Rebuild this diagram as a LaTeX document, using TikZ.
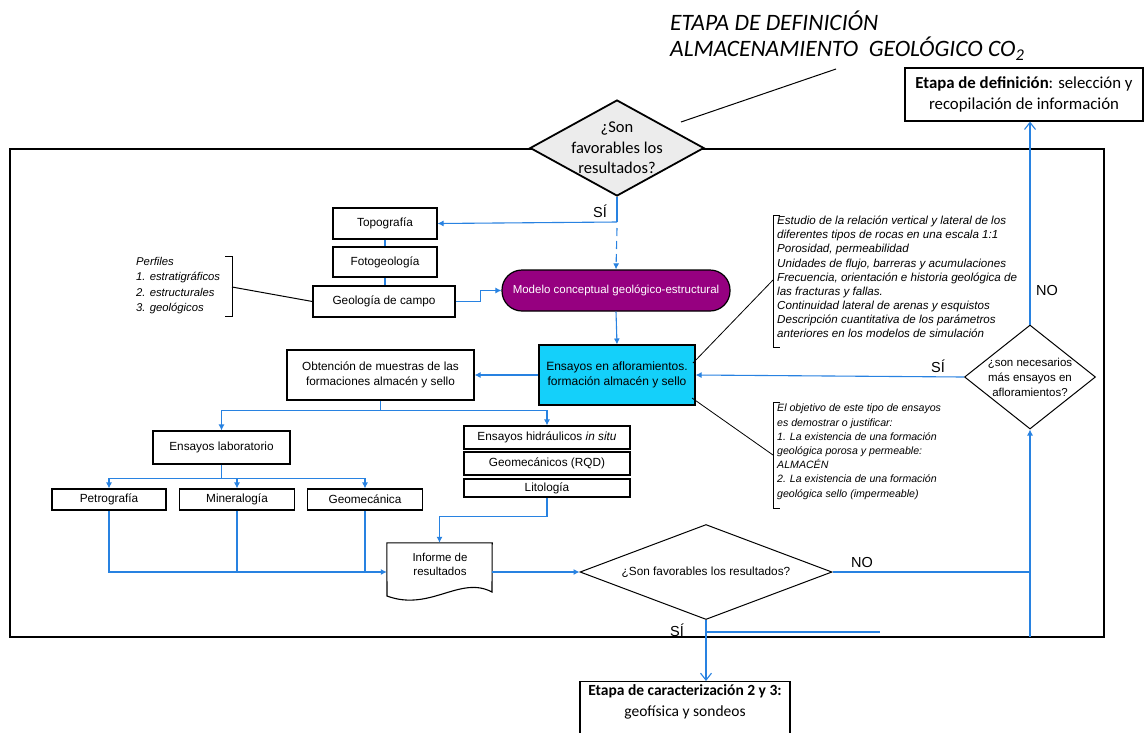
\documentclass[tikz,border=0pt]{standalone}
\usepackage{fontspec}
\setmainfont{Liberation Sans}
\newfontfamily\calfont{Carlito}
\usetikzlibrary{shapes.geometric,arrows.meta,calc}
\definecolor{flowblue}{RGB}{40,130,225}
\definecolor{modpurple}{RGB}{150,0,128}
\definecolor{enscyan}{RGB}{20,208,250}
\definecolor{diagray}{RGB}{236,236,236}
\tikzset{
  flow/.style={draw=flowblue, line width=1.1pt},
  arr/.style={-{Latex[length=6pt,width=6pt]}},
  openarr/.style={-{Straight Barb[length=7pt,width=11pt]}},
  box/.style={draw, line width=1.1pt, align=center, inner sep=1pt, font=\fontsize{11.8}{14.5}\selectfont},
  dia/.style={draw, diamond, inner sep=0pt, line width=1pt},
  txt/.style={align=center, inner sep=0pt},
  lbl/.style={inner sep=0pt, font=\fontsize{14.5}{16}\selectfont},
  note/.style={align=left, inner sep=0pt, anchor=north west, font=\fontsize{10.6}{14.2}\selectfont\itshape},
  pointer/.style={draw, line width=1pt},
}
\begin{document}
\begin{tikzpicture}[x=1pt,y=-1pt]
\useasboundingbox (0,0) rectangle (1148,732);
\clip (0,0) rectangle (1148,732);
\fill[white] (0,0) rectangle (1148,732);

% outer frame
\draw[line width=1.5pt] (10,149) rectangle (1104,637);

% title
\node[anchor=west, inner sep=0pt, font=\calfont\fontsize{23.5}{27}\selectfont\itshape] (t1) at (670,21) {ETAPA DE DEFINICI\'ON};
\node[anchor=west, inner sep=0pt, font=\calfont\fontsize{23.5}{27}\selectfont\itshape] (t2) at (670,49) {ALMACENAMIENTO\ \ GEOL\'OGICO CO\textsubscript{2}};
\coordinate (tp) at (836,69);

% top diamond
\node[dia, fill=diagray, line width=1.8pt, minimum width=174pt, minimum height=96pt,
  label={[txt, font=\calfont\fontsize{16.5}{20.5}\selectfont]center:{¿Son\\favorables los\\resultados?}}] (d1) at (617,148) {};
\draw[pointer] (tp) -- (681,122);

% definition box
\node[draw, line width=1.2pt, minimum width=238pt, minimum height=53pt, align=center, inner sep=0pt,
  font=\calfont\fontsize{16.8}{21.5}\selectfont] (def) at (1024,94.5)
  {\textbf{Etapa de definici\'on}: selecci\'on y\\recopilaci\'on de informaci\'on};

% left column
\node[box, minimum width=104pt, minimum height=31pt] (topo) at (385,223.5) {Topograf\'ia};
\node[box, minimum width=104pt, minimum height=30pt] (foto) at (385,262) {Fotogeolog\'ia};
\node[box, minimum width=142pt, minimum height=31pt] (geo) at (384,301.5) {Geolog\'ia de campo};

% Perfiles
\node[note, font=\fontsize{11.3}{15.5}\selectfont\itshape] (perf) at (136,257)
  {Perfiles\\1. estratigr\'aficos\\2. estructurales\\3. geol\'ogicos};
\draw[line width=1pt] (225,256) -- (232,256) -- (232,316) -- (225,316);
\coordinate (perfb) at (232,287);
\draw[pointer] (perfb) -- (geo.west);

% Modelo
\node[draw, line width=1.2pt, fill=modpurple, text=white, rounded corners=20pt,
  minimum width=228pt, minimum height=41pt, font=\fontsize{11.5}{14}\selectfont] (modelo) at (616,290.5)
  {Modelo conceptual geol\'ogico-estructural};

% Ensayos afloramientos
\node[box, fill=enscyan, minimum width=156pt, minimum height=60pt, font=\fontsize{12}{15}\selectfont] (ens) at (617,375)
  {Ensayos en afloramientos.\\formaci\'on almac\'en y sello};

% Obtencion
\node[box, minimum width=187pt, minimum height=50pt] (obt) at (380.5,375)
  {Obtenci\'on de muestras de las\\formaciones almac\'en y sello};

% laboratorio
\node[box, minimum width=137pt, minimum height=33pt] (lab) at (221.5,447.5) {Ensayos laboratorio};
\node[box, minimum width=114pt, minimum height=21pt] (petro) at (109,499.5) {Petrograf\'ia};
\node[box, minimum width=115pt, minimum height=21pt] (mine) at (237,499.5) {Mineralog\'ia};
\node[box, minimum width=115pt, minimum height=21pt] (geomec) at (365,499.5) {Geomec\'anica};

% in situ
\node[box, minimum width=166pt, minimum height=23pt] (hidr) at (547,437.5) {Ensayos hidr\'aulicos \textit{in situ}};
\node[box, minimum width=166pt, minimum height=23pt] (rqd) at (547,463.5) {Geomec\'anicos (RQD)};
\node[box, minimum width=166pt, minimum height=18pt] (lito) at (547,488) {Litolog\'ia};

% Informe (document shape)
\node[minimum width=105pt, minimum height=58pt, inner sep=0pt] (inf) at (439.5,572) {};
\draw[line width=1.1pt] (inf.north west) -- (inf.north east) -- (492,592)
  .. controls (460,575) and (430,612) .. (387,596) -- cycle;
\node[txt, font=\fontsize{11.5}{14}\selectfont] (inftxt) at (440,564) {Informe de\\resultados};

% diamonds
\node[dia, minimum width=252pt, minimum height=95pt,
  label={[txt, font=\fontsize{11.8}{14}\selectfont]center:{¿Son favorables los resultados?}}] (d3) at (706,572) {};
\node[dia, minimum width=131pt, minimum height=104pt,
  label={[txt, font=\fontsize{11.5}{15}\selectfont]center:{¿son necesarios\\m\'as ensayos en\\afloramientos?}}] (d2) at (1030,377) {};

% caracterizacion
\node[draw, line width=1.2pt, minimum width=210pt, minimum height=62pt, anchor=north, align=center, inner sep=0pt,
  font=\calfont\fontsize{15.5}{21}\selectfont, text depth=0pt] (car) at (685,681)
  {\textbf{Etapa de caracterizaci\'on 2 y 3:}\\geof\'isica y sondeos\\[4pt]\mbox{}};

% notes
\node[note, font=\fontsize{11.6}{14.1}\selectfont\itshape] (study) at (777,216)
  {Estudio de la relaci\'on vertical y lateral de los\\diferentes tipos de rocas en una escala 1:1\\Porosidad, permeabilidad\\Unidades de flujo, barreras y acumulaciones\\Frecuencia, orientaci\'on e historia geol\'ogica de\\las fracturas y fallas.\\Continuidad lateral de arenas y esquistos\\Descripci\'on cuantitativa de los par\'ametros\\anteriores en los modelos de simulaci\'on};
\draw[line width=1pt] (780,215) -- (773,215) -- (773,347) -- (780,347);
\coordinate (studyb) at (773,280);
\draw[pointer, line width=0.8pt] (studyb) -- (693,363);

\node[note] (obj) at (777,404)
  {El objetivo de este tipo de ensayos\\es demostrar o justificar:\\1. La existencia de una formaci\'on\\geol\'ogica porosa y permeable:\\ALMAC\'EN\\2. La existencia de una formaci\'on\\geol\'ogica sello (impermeable)};
\draw[line width=1pt] (780,402) -- (773,402) -- (773,508) -- (780,508);
\coordinate (objb) at (773,455);
\draw[pointer, line width=0.8pt] (objb) -- (692,398);

% connectors
\coordinate (sj) at (617,222);
\draw[flow] (d1.south) -- (sj);
\draw[flow, arr] (sj) -- (topo.east);
\draw[flow, dashed, dash pattern=on 8pt off 5pt, arr] ($(sj)+(0,6)$) -- (modelo.north);
\node[lbl] (si1) at (600,211) {S\'I};
\draw[flow] (topo.south) -- (foto.north);
\draw[flow] (foto.south) -- (foto.south|-geo.north);
\draw[flow, arr] (geo.east) -- ++(25,0) |- (modelo.west);
\draw[flow, arr] (modelo.south) -- (ens.north);
\draw[flow, arr] (ens.west) -- (obt.east);

\draw[flow] (obt.south) -- ++(0,10) coordinate (j1);
\draw[flow, arr] (j1) -| (lab.north);
\draw[flow, arr] (j1) -| (hidr.north);

\draw[flow] (lab.south) -- ++(0,14) coordinate (j2);
\draw[flow, arr] (j2) -| (petro.north);
\draw[flow, arr] (j2) -| (mine.north);
\draw[flow, arr] (j2) -| (geomec.north);

\draw[flow, arr] (lito.south) -- ++(0,19) -| (inf.north);
\draw[flow, arr] (petro.south) |- (inf.west);
\draw[flow] (mine.south) -- (mine.south|-inf.west);
\draw[flow] (geomec.south) -- (geomec.south|-inf.west);
\draw[flow, arr] (inf.east) -- (d3.west);

\coordinate (rj) at (1030,572);
\coordinate (rb) at (1030,637);
\draw[flow] (d3.east) -- (rj);
\node[lbl] (no1) at (862,562) {NO};
\draw[flow, arr] (rb) -- (d2.south);
\draw[flow, arr] (d2.west) -- (ens.east);
\node[lbl] (si2) at (938,366) {S\'I};
\draw[flow, openarr] (d2.north) -- (def.south-|d2.north);
\node[lbl] (no2) at (1047,290) {NO};

\draw[flow, openarr] (d3.south) -- (d3.south|-car.north);
\coordinate (sb) at (706,632);
\coordinate (se) at (880,632);
\draw[flow] (sb) -- (se);
\node[lbl] (si3) at (677,630) {S\'I};
\end{tikzpicture}
\end{document}
